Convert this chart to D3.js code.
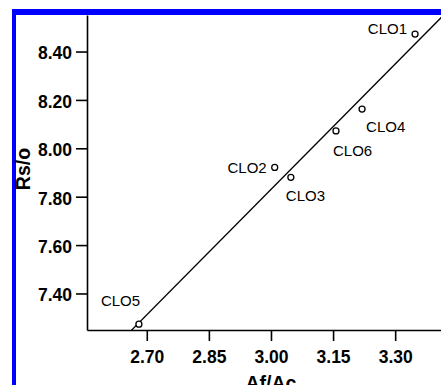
<!DOCTYPE html>
<html>
<head>
<meta charset="utf-8">
<script src="https://cdn.jsdelivr.net/npm/d3@7"></script>
<style>
  body { margin: 0; background: #fff; }
  svg { display: block; }
</style>
</head>
<body>
<div id="chart"></div>
<script>
// data
var names = ["CLO1", "CLO2", "CLO3", "CLO4", "CLO5", "CLO6"];
var afac = [3.348, 3.009, 3.048, 3.220, 2.681, 3.157];
var rso = [8.472, 7.921, 7.880, 8.162, 7.273, 8.072];
var xTicks = [2.70, 2.85, 3.00, 3.15, 3.30];
var yTicks = [7.40, 7.60, 7.80, 8.00, 8.20, 8.40];

// where each point label sits relative to its marker
var labelPlace = {
  CLO1: { anchor: "end", dx: -8, dy: 0 },
  CLO2: { anchor: "end", dx: -8, dy: 6 },
  CLO3: { anchor: "start", dx: -5, dy: 24 },
  CLO4: { anchor: "start", dx: 4, dy: 23 },
  CLO5: { anchor: "start", dx: -38, dy: -18 },
  CLO6: { anchor: "start", dx: -3, dy: 25 }
};

var W = 441, H = 385;
var plot = { left: 87, right: 455, top: 15, bottom: 330 };

var svg = d3.select("#chart").append("svg")
  .attr("width", W)
  .attr("height", H);

svg.append("rect").attr("width", W).attr("height", H).attr("fill", "#fff");

// blue frame (cropped figure border)
svg.append("rect").attr("x", 12).attr("y", 9).attr("width", W - 12).attr("height", 6).attr("fill", "#0000ff");
svg.append("rect").attr("x", 12).attr("y", 9).attr("width", 4).attr("height", H - 9).attr("fill", "#0000ff");

var x = d3.scaleLinear().domain([2.5556, 3.4445]).range([plot.left, plot.right]);
var y = d3.scaleLinear().domain([7.249, 8.551]).range([plot.bottom, plot.top]);

var data = names.map(function (n, i) { return { name: n, x: afac[i], y: rso[i] }; });

svg.append("clipPath").attr("id", "clip")
  .append("rect")
  .attr("x", plot.left).attr("y", plot.top)
  .attr("width", plot.right - plot.left).attr("height", plot.bottom - plot.top);

// least squares fit line
var mx = d3.mean(afac), my = d3.mean(rso);
var sxy = d3.sum(afac, function (v, i) { return (v - mx) * (rso[i] - my); });
var sxx = d3.sum(afac, function (v) { return (v - mx) * (v - mx); });
var slope = sxy / sxx, icpt = my - slope * mx;
var xd = x.domain();

svg.append("line")
  .attr("clip-path", "url(#clip)")
  .attr("x1", x(xd[0])).attr("y1", y(icpt + slope * xd[0]))
  .attr("x2", x(xd[1])).attr("y2", y(icpt + slope * xd[1]))
  .attr("stroke", "#000")
  .attr("stroke-width", 1.3);

// axes
var xAxis = svg.append("g")
  .attr("transform", "translate(0," + plot.bottom + ")")
  .call(d3.axisBottom(x).tickValues(xTicks).tickFormat(d3.format(".2f")).tickSize(11).tickSizeOuter(0).tickPadding(10));

var yAxis = svg.append("g")
  .attr("transform", "translate(" + plot.left + ",0)")
  .call(d3.axisLeft(y).tickValues(yTicks).tickFormat(d3.format(".2f")).tickSize(11).tickSizeOuter(0).tickPadding(4));

[xAxis, yAxis].forEach(function (g) {
  g.selectAll("path, line").attr("stroke", "#000").attr("stroke-width", 1.6);
  g.selectAll("text")
    .attr("fill", "#000")
    .style("font-family", "'Liberation Sans', Arial, sans-serif")
    .style("font-size", "17.5px")
    .style("font-weight", "bold");
});
yAxis.selectAll("text").attr("dy", "0.42em");

// axis titles
svg.append("text")
  .attr("x", (plot.left + plot.right) / 2)
  .attr("y", 390)
  .attr("text-anchor", "middle")
  .style("font-family", "'Liberation Sans', Arial, sans-serif")
  .style("font-size", "19.5px")
  .style("font-weight", "bold")
  .text("Af/Ac");

svg.append("text")
  .attr("transform", "translate(30," + 169 + ") rotate(-90)")
  .attr("text-anchor", "middle")
  .style("font-family", "'Liberation Sans', Arial, sans-serif")
  .style("font-size", "19.5px")
  .style("font-weight", "bold")
  .text("Rs/o");

// points
svg.selectAll("circle.pt")
  .data(data)
  .enter()
  .append("circle")
  .attr("class", "pt")
  .attr("cx", function (d) { return x(d.x); })
  .attr("cy", function (d) { return y(d.y); })
  .attr("r", 3)
  .attr("fill", "#fff")
  .attr("stroke", "#000")
  .attr("stroke-width", 1.3);

svg.selectAll("text.lbl")
  .data(data)
  .enter()
  .append("text")
  .attr("class", "lbl")
  .attr("x", function (d) { return x(d.x) + labelPlace[d.name].dx; })
  .attr("y", function (d) { return y(d.y) + labelPlace[d.name].dy; })
  .attr("text-anchor", function (d) { return labelPlace[d.name].anchor; })
  .style("font-family", "'Liberation Sans', Arial, sans-serif")
  .style("font-size", "15px")
  .text(function (d) { return d.name; });
</script>
</body>
</html>
